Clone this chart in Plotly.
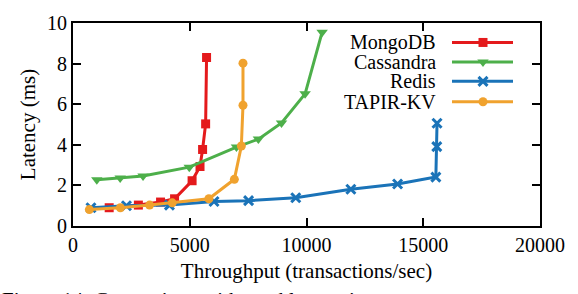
import plotly.graph_objects as go

mongo_x = [1550, 2800, 3750, 4350, 5100, 5440, 5550, 5680, 5720]
mongo_y = [0.90, 1.03, 1.18, 1.34, 2.23, 2.93, 3.77, 5.03, 8.30]

cass_x = [1020, 2020, 3000, 4980, 7000, 7940, 8930, 9940, 10670]
cass_y = [2.28, 2.37, 2.46, 2.90, 3.89, 4.28, 5.08, 6.51, 9.55]

redis_x = [770, 2290, 4130, 6040, 7520, 9540, 11900, 13900, 15540, 15580, 15590]
redis_y = [0.90, 1.00, 1.03, 1.21, 1.25, 1.39, 1.81, 2.07, 2.41, 3.91, 5.06]

tapir_x = [700, 2030, 3280, 4250, 5820, 6910, 7210, 7280, 7280]
tapir_y = [0.81, 0.90, 1.03, 1.14, 1.34, 2.30, 3.94, 5.95, 8.02]

x_ticks = [0, 5000, 10000, 15000, 20000]
y_ticks = [0, 2, 4, 6, 8, 10]

names = ["MongoDB", "Cassandra", "Redis", "TAPIR-KV"]
colors = ["#e41a1c", "#4daf4a", "#1a73b8", "#f0a22e"]
symbols = ["square", "triangle-down", "x-thin", "circle"]
sizes = [9, 10, 9, 9]
series = [(mongo_x, mongo_y), (cass_x, cass_y), (redis_x, redis_y), (tapir_x, tapir_y)]

FONT = "Liberation Serif"
L, R, T, B = 73, 38, 12, 68
WIDTH, HEIGHT = 578, 294
W, H = WIDTH - L - R, HEIGHT - T - B

fig = go.Figure()

for (xs, ys), n, c, s, sz in zip(series, names, colors, symbols, sizes):
    fig.add_trace(go.Scatter(
        x=xs, y=ys, name=n, mode="lines+markers",
        line=dict(color=c, width=3),
        marker=dict(symbol=s, size=sz, color=c, line=dict(color=c, width=3 if s == "x-thin" else 0)),
        showlegend=False,
    ))

# custom legend: text right-aligned, sample on the right
leg_rows = [32.5, 53, 73.5, 95]
text_right = 438
line_l, line_r, mark_x = 452, 513, 483
for i, (n, c, s, sz) in enumerate(zip(names, colors, symbols, sizes)):
    yp = (HEIGHT - B - leg_rows[i]) / H
    fig.add_annotation(
        x=(text_right - L) / W, y=yp, xref="paper", yref="paper",
        text=n, showarrow=False, xanchor="right", yanchor="middle",
        font=dict(family=FONT, size=20, color="black"),
    )
    fig.add_shape(type="line", xref="paper", yref="paper",
                  x0=(line_l - L) / W, x1=(line_r - L) / W, y0=yp, y1=yp,
                  line=dict(color=c, width=3))
    fig.add_trace(go.Scatter(
        x=[(mark_x - L) / W], y=[yp], xaxis="x2", yaxis="y2", mode="markers",
        marker=dict(symbol=s, size=sz, color=c, line=dict(color=c, width=3 if s == "x-thin" else 0)),
        showlegend=False, hoverinfo="skip",
    ))

# caption (cut off at bottom in reference)
fig.add_annotation(
    x=-L / W, y=-(289 - (HEIGHT - B)) / H, xref="paper", yref="paper",
    text="Figure 14: Comparison with weakly consistent storage systems.",
    showarrow=False, xanchor="left", yanchor="top",
    font=dict(family=FONT, size=21, color="black"),
)

axis_common = dict(
    showgrid=False, zeroline=False, showline=True, linecolor="black", linewidth=2,
    mirror="ticks", ticks="inside", ticklen=8, tickwidth=1.5, tickcolor="black",
    tickfont=dict(family=FONT, size=20, color="black"),
)

fig.update_layout(
    width=WIDTH, height=HEIGHT,
    margin=dict(l=L, r=R, t=T, b=B),
    paper_bgcolor="white", plot_bgcolor="white",
    font=dict(family=FONT, color="black"),
    xaxis=dict(range=[0, 20000], tickvals=x_ticks, ticktext=[str(v) for v in x_ticks],
               title=dict(text="Throughput (transactions/sec)", font=dict(family=FONT, size=21), standoff=8),
               **axis_common),
    yaxis=dict(range=[0, 10], tickvals=y_ticks, ticktext=[str(v) for v in y_ticks],
               title=dict(text="Latency (ms)", font=dict(family=FONT, size=21), standoff=6),
               **axis_common),
    xaxis2=dict(range=[0, 1], overlaying="x", visible=False, fixedrange=True),
    yaxis2=dict(range=[0, 1], overlaying="y", visible=False, fixedrange=True),
    showlegend=False,
)

fig.write_html("out.html", config={"displayModeBar": False},
               post_script="document.body.style.margin='0px';")
